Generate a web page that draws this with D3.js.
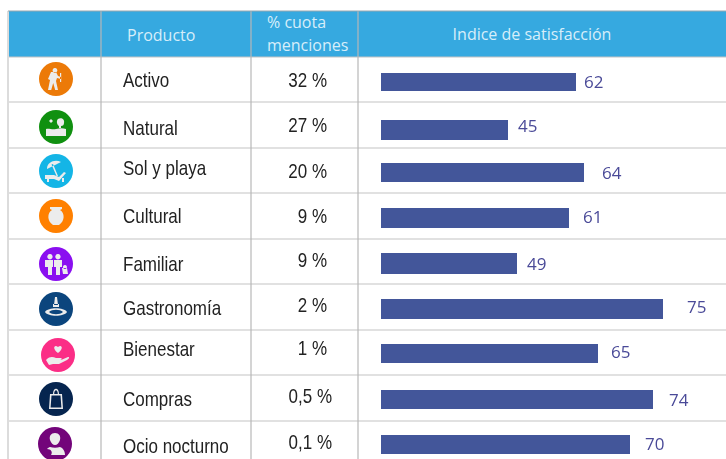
<!DOCTYPE html>
<html>
<head>
<meta charset="utf-8">
<script src="https://cdn.jsdelivr.net/npm/d3@7"></script>
<style>
    html, body { margin: 0; padding: 0; background: #fff; overflow: hidden; }
    svg { filter: blur(0.45px); }
</style>
</head>
<body>
<div id="chart"></div>
<script>
const products = ['Activo', 'Natural', 'Sol y playa', 'Cultural', 'Familiar', 'Gastronomía', 'Bienestar', 'Compras', 'Ocio nocturno'];
const shares = ['32 %', '27 %', '20 %', '9 %', '9 %', '2 %', '1 %', '0,5 %', '0,1 %'];
const satisfaction = [62, 45, 64, 61, 49, 75, 65, 74, 70];
const iconColors = ['#ec7a08', '#109010', '#14b5e6', '#ff8000', '#8a0ff0', '#0b457d', '#fb2e86', '#06254f', '#73047a'];
const iconNames = ['hiker', 'nature', 'beach', 'vase', 'family', 'dish', 'care', 'bag', 'person'];

const width = 726;
const height = 459;

// row lines of the table
const rowLines = [57, 102, 148, 193, 239, 284, 330, 375, 421];
const columnLines = [8, 101, 251, 358];

// the picture is a bit uneven row to row, so each row keeps its own position
const iconX = [56, 56, 56, 56, 56, 56, 58, 56, 55];
const iconY = [79, 127, 171, 216, 264, 309, 355, 399, 444];
const productY = [87, 135, 175, 223, 271, 315, 356, 406, 453];
const shareY = [87, 132, 178, 223, 267, 312, 355, 403, 449];
const barTop = [73, 120, 163, 208, 253, 299, 344, 390, 435];
const barHeight = [18, 20, 19, 20, 21, 20, 19, 19, 19];
const valueY = [88, 132, 179, 223, 270, 313, 358, 406, 450];

// bar lengths in the source are not proportional to the number, so the scale
// goes through what was measured for each value
const xScale = d3.scaleLinear()
    .domain([45, 49, 61, 62, 64, 65, 70, 74, 75])
    .range([127, 136, 188, 195, 203, 217, 249, 272, 282]);
const barLeft = 381;
const labelGap = [8, 10, 18, 14, 10, 24, 13, 16, 15];

const svg = d3.select('#chart').append('svg')
    .attr('width', width)
    .attr('height', height)
    .style('display', 'block');

// header
svg.append('rect')
    .attr('x', 8).attr('y', 11)
    .attr('width', width - 8).attr('height', 46)
    .attr('fill', '#36a9e0');

const headFont = '"Open Sans", sans-serif';
const headColor = '#d6eefa';
function headText(x, y, label, anchor) {
    svg.append('text')
        .attr('x', x).attr('y', y)
        .attr('text-anchor', anchor || 'start')
        .attr('font-family', headFont)
        .attr('font-size', 16)
        .attr('fill', headColor)
        .text(label);
}
headText(127, 41, 'Producto');
headText(267, 28, '% cuota');
headText(267, 51, 'menciones');
headText(532, 40, 'Indice de satisfacción', 'middle');

// grid
svg.selectAll('.row-line')
    .data(rowLines)
    .enter()
    .append('line')
    .attr('class', 'row-line')
    .attr('x1', 8).attr('x2', width)
    .attr('y1', d => d).attr('y2', d => d)
    .attr('stroke', '#c4c4c4')
    .attr('stroke-width', 1.2);

svg.selectAll('.col-line')
    .data(columnLines)
    .enter()
    .append('line')
    .attr('class', 'col-line')
    .attr('x1', d => d).attr('x2', d => d)
    .attr('y1', 11).attr('y2', height)
    .attr('stroke', (d, i) => i === 0 ? '#dcdcdc' : '#b8b8b8')
    .attr('stroke-width', (d, i) => i === 0 ? 2 : 1.2);

svg.append('line')
    .attr('x1', 8).attr('x2', width)
    .attr('y1', 11).attr('y2', 11)
    .attr('stroke', '#9aa7ae');

// text columns, Arial Narrow in the source so squeeze the Liberation glyphs
const rowFont = '"Liberation Sans", sans-serif';
const squeeze = 0.85;

svg.selectAll('.product')
    .data(products)
    .enter()
    .append('text')
    .attr('class', 'product')
    .attr('transform', (d, i) => `translate(123, ${productY[i]}) scale(${squeeze}, 1)`)
    .attr('font-family', rowFont)
    .attr('font-size', 20)
    .attr('fill', '#222')
    .text(d => d);

svg.selectAll('.share')
    .data(shares)
    .enter()
    .append('text')
    .attr('class', 'share')
    .attr('transform', (d, i) => `translate(${i > 6 ? 332 : 327}, ${shareY[i]}) scale(${squeeze}, 1)`)
    .attr('text-anchor', 'end')
    .attr('font-family', rowFont)
    .attr('font-size', 20)
    .attr('fill', '#222')
    .text(d => d);

// bars
svg.selectAll('.bar')
    .data(satisfaction)
    .enter()
    .append('rect')
    .attr('class', 'bar')
    .attr('x', barLeft)
    .attr('y', (d, i) => barTop[i])
    .attr('width', d => xScale(d))
    .attr('height', (d, i) => barHeight[i])
    .attr('fill', '#43569a');

svg.selectAll('.value')
    .data(satisfaction)
    .enter()
    .append('text')
    .attr('class', 'value')
    .attr('x', (d, i) => barLeft + xScale(d) + labelGap[i])
    .attr('y', (d, i) => valueY[i])
    .attr('font-family', headFont)
    .attr('font-size', 17)
    .attr('fill', '#4a4a98')
    .text(d => d);

// icons, roughly drawn white glyphs on a coloured disc
const glyphs = {
    hiker: 'M-1-11a2.400 2.400 0 1 1-.1 0zM-5-7h5l2 4 3 1v2l-4-1-1 3 2 9h-2.800l-2-7-2 7H-8l2-10-2-1zM4-6h1.200v9H4z',
    nature: 'M-10 2c3-1 6 1 10 0s7-1 10 0v7H-10zM2-8c3-2 7 0 6 4 0 2-1 3-3 3v3H3v-3c-2-1-3-5-1-7zM-5-8l2 2-2 2-2-2z',
    beach: 'M-9-2C-9-9-1-12 5-9L-9-2zM-3-7L2 5h-1.500L-4.500-6.500zM-11 4h9l5 2 5-5 2 1-7 8-5-2h-9zM-9 8h2v3h-2zM6 7h2v4H6z',
    vase: 'M-6-9H6V-7L4-6C9-3 9 5 3 9H-3C-9 5-9-3-4-6L-6-7z',
    family: 'M-6-10a2.700 2.700 0 1 1-.1 0zM2-10a2.700 2.700 0 1 1-.1 0zM-11-4h8v7H-4v8h-4V3h-3zM-2-4h8v7H4v8H0V3h-2zM9 1a2 2 0 1 1-.1 0zM6 4h5l1 6H7z',
    dish: 'M-1-12h2l1 8h-4zM-3-5h6v3h-6zM-11 3C-8-2 8-2 11 3 8 8-8 8-11 3zM-7 3C-4 6 4 6 7 3 4 0-4 0-7 3z',
    care: 'M0-2C-6-6-4-11 0-8 4-11 6-6 0-2zM-12 5c4-4 7-3 10-2l5 0c1 0 1 2-1 2h-4l5 0 7-3c2 0 1 2-1 3l-8 4H-5l-4 1z',
    bag: 'M-6-5H6L7 10H-7zM-4.500-3.500L-5.400 8.500H5.400L4.500-3.500zM-3-5c0-7 6-7 6 0H1.800c0-5-3.600-5-3.600 0z',
    person: 'M0-11c4 0 6 3 5 7-1 3-3 5-5 5s-4-2-5-5c-1-4 1-7 5-7zM-5 3c3 1 7 1 10 0 3 1 5 4 5 8H-4c2-3 0-6-4-6 1-1 2-2 3-2z'
};

const icons = svg.selectAll('.icon')
    .data(iconNames)
    .enter()
    .append('g')
    .attr('class', 'icon')
    .attr('transform', (d, i) => `translate(${iconX[i]}, ${iconY[i]})`);

icons.append('circle')
    .attr('r', 17)
    .attr('fill', (d, i) => iconColors[i]);

icons.append('path')
    .attr('d', d => glyphs[d])
    .attr('fill', '#ececec')
    .attr('fill-rule', 'evenodd');
</script>
</body>
</html>
